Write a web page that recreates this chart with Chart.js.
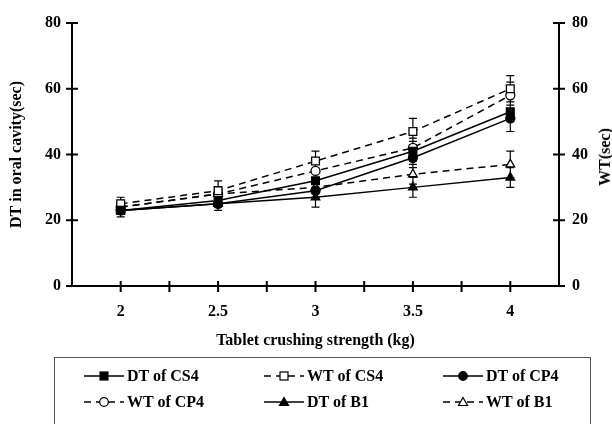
<!DOCTYPE html>
<html>
<head>
<meta charset="utf-8">
<script src="https://cdn.jsdelivr.net/npm/chart.js@4.4.0/dist/chart.umd.min.js"></script>
<style>
  body { margin: 0; background: #fff; }
  #wrap { position: relative; width: 612px; height: 424px; overflow: hidden;
          font-family: "Liberation Serif", serif; font-weight: bold; color: #000; }
  #legend { position: absolute; left: 54px; top: 357px; width: 537px; height: 80px;
            border: 1px solid #555; box-sizing: border-box; }
  .item { position: absolute; height: 20px; display: flex; align-items: center;
          font-size: 16px; white-space: nowrap; }
  .item svg { margin-right: 3px; }
  #y2title { position: absolute; left: 605px; top: 157px; font-size: 16px; white-space: nowrap;
             transform: translate(-50%, -50%) rotate(-90deg); }
</style>
</head>
<body>
<div id="wrap">
  <canvas id="c" width="612" height="424"></canvas>
  <div id="y2title">WT(sec)</div>
  <div id="legend"></div>
</div>
<script>
// tablet crushing strength (kg)
const strengths = [2, 2.5, 3, 3.5, 4];

// times in seconds, with the +/- error
const dtCS4 = [23, 26, 32, 41, 53];
const dtCS4Err = [2, 2, 3, 3, 3];
const wtCS4 = [25, 29, 38, 47, 60];
const wtCS4Err = [2, 3, 3, 4, 4];
const dtCP4 = [23, 25, 29, 39, 51];
const dtCP4Err = [2, 2, 2, 3, 4];
const wtCP4 = [24, 28, 35, 42, 58];
const wtCP4Err = [2, 2, 3, 3, 4];
const dtB1 = [23, 25, 27, 30, 33];
const dtB1Err = [2, 2, 3, 3, 3];
const wtB1 = [24, 28, 30, 34, 37];
const wtB1Err = [2, 2, 2, 3, 4];

const yTicks = [0, 20, 40, 60, 80];

const font = { family: "'Liberation Serif', serif", size: 16, weight: 'bold' };

function series(label, vals, errs, style, filled, dashed) {
  return {
    label: label,
    data: strengths.map((x, i) => ({ x: x, y: vals[i] })),
    errors: errs,
    borderColor: '#000',
    borderWidth: 1.5,
    borderDash: dashed ? [7, 5] : [],
    pointStyle: style,
    pointRadius: style === 'rect' ? 5.5 : (style === 'circle' ? 4.5 : 5),
    pointBorderWidth: 1.3,
    pointBorderColor: '#000',
    pointBackgroundColor: filled ? '#000' : '#fff',
    fill: false,
    tension: 0
  };
}

const datasets = [
  series('DT of CS4', dtCS4, dtCS4Err, 'rect', true, false),
  series('WT of CS4', wtCS4, wtCS4Err, 'rect', false, true),
  series('DT of CP4', dtCP4, dtCP4Err, 'circle', true, false),
  series('WT of CP4', wtCP4, wtCP4Err, 'circle', false, true),
  series('DT of B1', dtB1, dtB1Err, 'triangle', true, false),
  series('WT of B1', wtB1, wtB1Err, 'triangle', false, true)
];

const errorBars = {
  id: 'errorBars',
  beforeDatasetsDraw(chart) {
    const ctx = chart.ctx;
    const ys = chart.scales.y;
    ctx.save();
    ctx.strokeStyle = '#000';
    ctx.lineWidth = 1.2;
    ctx.beginPath();
    chart.data.datasets.forEach((ds, i) => {
      chart.getDatasetMeta(i).data.forEach((pt, j) => {
        const v = ds.data[j].y, e = ds.errors[j];
        const top = ys.getPixelForValue(v + e);
        const bot = ys.getPixelForValue(v - e);
        ctx.moveTo(pt.x, top); ctx.lineTo(pt.x, bot);
        ctx.moveTo(pt.x - 4, top); ctx.lineTo(pt.x + 4, top);
        ctx.moveTo(pt.x - 4, bot); ctx.lineTo(pt.x + 4, bot);
      });
    });
    ctx.stroke();
    ctx.restore();
  }
};

// tick marks that cross the axis lines
const crossTicks = {
  id: 'crossTicks',
  afterDraw(chart) {
    const ctx = chart.ctx, area = chart.chartArea;
    ctx.save();
    ctx.strokeStyle = '#000';
    ctx.lineWidth = 2;
    ctx.beginPath();
    const xs = chart.scales.x;
    xs.ticks.forEach(t => {
      if (t.value <= xs.min || t.value >= xs.max) return;
      const px = xs.getPixelForValue(t.value);
      ctx.moveTo(px, area.bottom - 5);
      ctx.lineTo(px, area.bottom + 6);
    });
    ['y', 'y2'].forEach(id => {
      const s = chart.scales[id];
      const edge = id === 'y' ? area.left : area.right;
      s.ticks.forEach(t => {
        const py = s.getPixelForValue(t.value);
        ctx.moveTo(edge - 6, py);
        ctx.lineTo(edge + 6, py);
      });
    });
    ctx.stroke();
    ctx.restore();
  }
};

const yScale = (pos, pad, width, title) => ({
  type: 'linear',
  position: pos,
  min: yTicks[0],
  max: yTicks[yTicks.length - 1],
  afterBuildTicks: s => { s.ticks = yTicks.map(v => ({ value: v })); },
  ticks: { color: '#000', font: font, padding: pad },
  grid: { display: true, drawOnChartArea: false, drawTicks: false },
  border: { display: true, color: '#000', width: 2 },
  title: title,
  afterFit: s => { s.width = width; }
});

new Chart(document.getElementById('c'), {
  type: 'line',
  data: { datasets: datasets },
  options: {
    responsive: false,
    animation: false,
    layout: { padding: { top: 23, bottom: 68, left: 0, right: 0 } },
    plugins: { legend: { display: false }, tooltip: { enabled: false } },
    scales: {
      x: {
        type: 'linear',
        min: 1.75,
        max: 4.25,
        ticks: {
          stepSize: 0.25,
          autoSkip: false,
          maxRotation: 0,
          color: '#000',
          font: font,
          padding: 16,
          callback: v => (Math.abs(v * 2 - Math.round(v * 2)) < 1e-9 ? String(v) : '')
        },
        grid: { display: true, drawOnChartArea: false, drawTicks: false },
        border: { display: true, color: '#000', width: 2 },
        title: { display: true, text: 'Tablet crushing strength (kg)', color: '#000', font: font,
                 padding: { top: 0, bottom: 6 } },
        afterFit: s => { s.height = 70; }
      },
      y: yScale('left', 11, 72, { display: true, text: 'DT in oral cavity(sec)', color: '#000', font: font,
                                  padding: { top: 7, bottom: 0 } }),
      y2: yScale('right', 13, 53, { display: false })
    }
  },
  plugins: [errorBars, crossTicks]
});

// legend: three columns, two rows
const legend = document.getElementById('legend');
const colX = [29, 209, 388];
const rowY = [8, 34];
datasets.forEach((ds, i) => {
  const filled = ds.pointBackgroundColor === '#000';
  const fillC = filled ? '#000' : '#fff';
  let marker = '';
  if (ds.pointStyle === 'rect') {
    marker = `<rect x="16" y="6" width="8" height="8" fill="${fillC}" stroke="#000" stroke-width="1.2"/>`;
  } else if (ds.pointStyle === 'circle') {
    marker = `<circle cx="20" cy="10" r="4.3" fill="${fillC}" stroke="#000" stroke-width="1.2"/>`;
  } else {
    marker = `<polygon points="20,5.5 24.5,13.5 15.5,13.5" fill="${fillC}" stroke="#000" stroke-width="1.2"/>`;
  }
  const dash = ds.borderDash.length ? 'stroke-dasharray="7 5"' : '';
  const el = document.createElement('div');
  el.className = 'item';
  el.style.left = colX[i % 3] + 'px';
  el.style.top = rowY[Math.floor(i / 3)] + 'px';
  el.innerHTML = `<svg width="40" height="20"><line x1="0" y1="10" x2="40" y2="10" stroke="#000" stroke-width="1.5" ${dash}/>${marker}</svg><span>${ds.label}</span>`;
  legend.appendChild(el);
});
</script>
</body>
</html>
